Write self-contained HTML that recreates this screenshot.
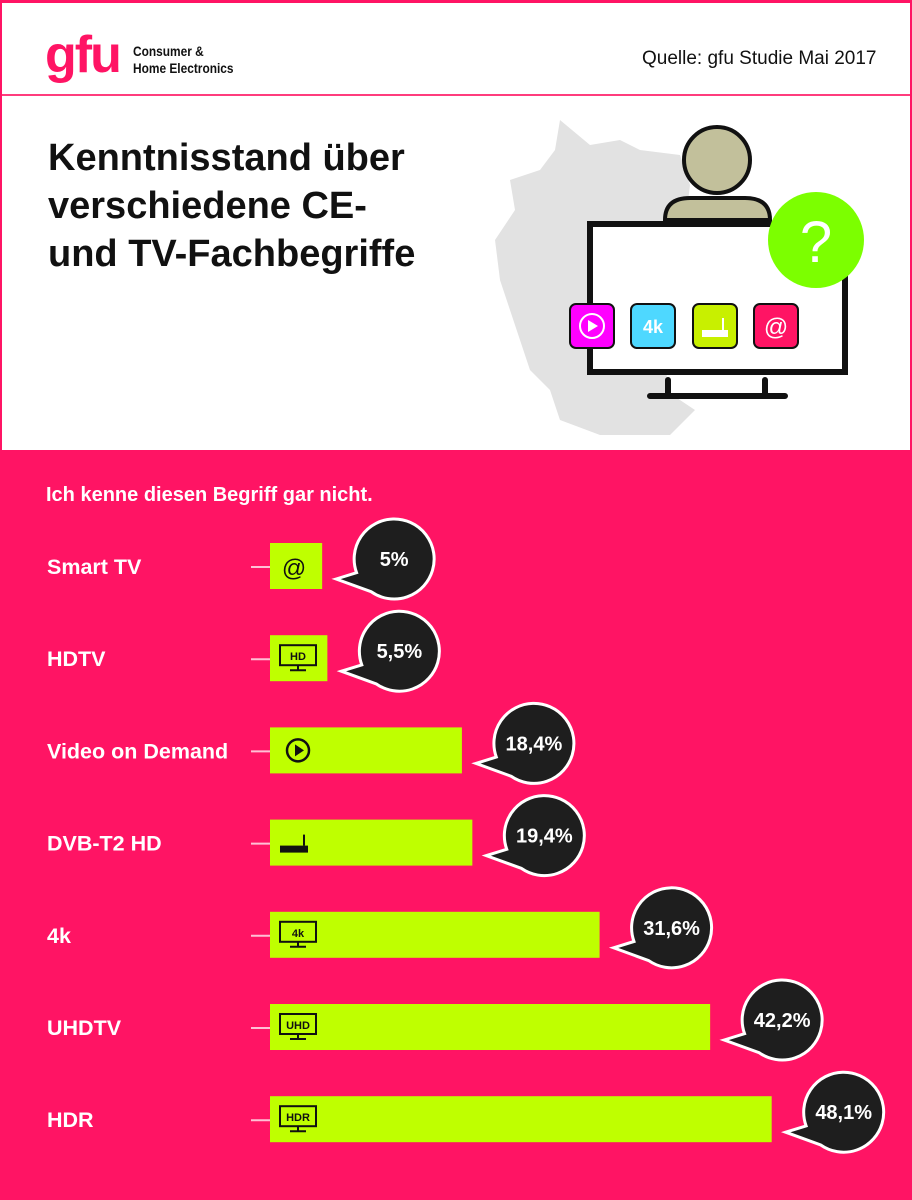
<!DOCTYPE html>
<html><head><meta charset="utf-8"><style>
body{margin:0;width:912px;height:1200px;overflow:hidden;font-family:"Liberation Sans",sans-serif;}
#wrap{position:relative;width:912px;height:1200px;background:#ff1464;}
#top{position:absolute;left:2px;top:3px;width:908px;height:447px;background:#fff;}
#hline{position:absolute;left:0;top:91px;width:908px;height:2px;background:#ff3c7d;}
.t{position:absolute;white-space:nowrap;}
</style></head><body>
<div id="wrap">
<div id="top">
 <div class="t" style="left:43px;top:26px;font-size:52px;font-weight:bold;color:#ff1464;letter-spacing:-2px;line-height:52px;">gfu</div>
 <div class="t" style="left:131px;top:40px;font-size:14px;font-weight:bold;line-height:17px;color:#111;transform:scaleX(0.85);transform-origin:left;">Consumer &amp;<br>Home Electronics</div>
 <div class="t" style="left:640px;top:45px;font-size:19px;color:#111;">Quelle: gfu Studie Mai 2017</div>
 <div id="hline"></div>
 <div class="t" style="left:46px;top:131px;font-size:38px;font-weight:bold;line-height:48px;color:#111;">Kenntnisstand über<br>verschiedene CE-<br>und TV-Fachbegriffe</div>
 <svg style="position:absolute;left:478px;top:87px" width="420" height="360">
  <path d="M80 30 L110 55 L140 50 L160 60 L200 65 L210 95 L185 300 L215 320 L190 345 L120 345 L80 330 L70 300 L50 280 L40 250 L20 190 L15 150 L35 120 L30 90 L60 80 L75 60 Z" fill="#e2e2e2"/>
  <circle cx="237" cy="70" r="33" fill="#c2c09b" stroke="#111" stroke-width="4"/>
  <path d="M185 130 Q185 108 210 108 L265 108 Q290 108 290 130 Z" fill="#c2c09b" stroke="#111" stroke-width="4"/>
  <rect x="110" y="134" width="255" height="148" fill="#fff" stroke="#111" stroke-width="6"/>
  <path d="M170 306 H305 M188 306 V290 M285 306 V290" stroke="#111" stroke-width="6" stroke-linecap="round"/>
  <circle cx="336" cy="150" r="48" fill="#7cff00"/>
  <text x="336" y="172" font-size="58" fill="#fff" text-anchor="middle" font-family="Liberation Sans">?</text>
  <rect x="90" y="214" width="44" height="44" rx="6" fill="#ff00ff" stroke="#111" stroke-width="2"/>
  <circle cx="112" cy="236" r="12" fill="none" stroke="#fff" stroke-width="2"/><path d="M108 230 L118 236 L108 242Z" fill="#fff"/>
  <rect x="151" y="214" width="44" height="44" rx="6" fill="#4ed8ff" stroke="#111" stroke-width="2"/>
  <text x="173" y="243" font-size="18" font-weight="bold" fill="#fff" text-anchor="middle">4k</text>
  <rect x="213" y="214" width="44" height="44" rx="6" fill="#c8f000" stroke="#111" stroke-width="2"/>
  <rect x="222" y="240" width="26" height="7" fill="#fff"/><path d="M243 240 V228" stroke="#fff" stroke-width="2"/>
  <rect x="274" y="214" width="44" height="44" rx="6" fill="#ff1464" stroke="#111" stroke-width="2"/>
  <text x="296" y="245" font-size="24" fill="#fff" text-anchor="middle">@</text>
 </svg>
</div>
<div class="t" style="left:46px;top:484px;font-size:20px;font-weight:bold;color:#fff;">Ich kenne diesen Begriff gar nicht.</div>
<svg id="chart" style="position:absolute;left:0;top:0" width="912" height="1200"></svg>
</div>
<script>
const categories=["Smart TV","HDTV","Video on Demand","DVB-T2 HD","4k","UHDTV","HDR"];
const values=[5,5.5,18.4,19.4,31.6,42.2,48.1];
const valueLabels=["5%","5,5%","18,4%","19,4%","31,6%","42,2%","48,1%"];
const iconTexts=["@","HD","▶","dvb","4k","UHD","HDR"];
const NS="http://www.w3.org/2000/svg";
const svg=document.getElementById('chart');
const x0=270,scale=10.43,y0=543,step=92.2,bh=46;
function xs(v){return x0+v*scale;}
function ys(i){return y0+i*step;}
function mk(t,a){const e=document.createElementNS(NS,t);for(const k in a)e.setAttribute(k,a[k]);svg.appendChild(e);return e;}
categories.forEach((c,i)=>{
 const y=ys(i),xe=xs(values[i]);
 const lab=mk('text',{x:47,y:y+31,'font-size':21.5,'font-weight':'bold',fill:'#fff','font-family':'Liberation Sans'});
 lab.textContent=c;
 
 
 const ln=mk('line',{x1:251,x2:270,y1:y+24,y2:y+24,stroke:'#ffc0d5','stroke-width':2});
 
 
 const bar=mk('rect',{x:x0,y:y,width:xe-x0,height:bh,fill:'#bfff00'});
 
 
 const ix=x0+10,iy=y+9;
 if(iconTexts[i]==="@"){const t=mk('text',{x:ix+14,y:iy+24,'font-size':24,fill:'#111','text-anchor':'middle'});t.textContent="@";}
 else if(iconTexts[i]==="▶"){mk('circle',{cx:ix+18,cy:iy+14,r:11,fill:'none',stroke:'#111','stroke-width':2.5});mk('path',{d:`M${ix+15} ${iy+8} L${ix+24} ${iy+14} L${ix+15} ${iy+20}Z`,fill:'#111'});}
 else if(iconTexts[i]==="dvb"){mk('rect',{x:ix,y:iy+17,width:28,height:7,fill:'#111'});mk('path',{d:`M${ix+24} ${iy+17} V${iy+6}`,stroke:'#111','stroke-width':2});}
 else{mk('rect',{x:ix,y:iy+1,width:36,height:20,fill:'none',stroke:'#111','stroke-width':2});mk('path',{d:`M${ix+18} ${iy+21} V${iy+26} M${ix+10} ${iy+26} H${ix+26}`,stroke:'#111','stroke-width':2});const t=mk('text',{x:ix+18,y:iy+16,'font-size':11,'font-weight':'bold',fill:'#111','text-anchor':'middle'});t.textContent=iconTexts[i];}
 const cx=xe+72,cy=y+16,r=40;
 const a1=160*Math.PI/180,a2=125*Math.PI/180;
 const p1=[cx+r*Math.cos(a1),cy+r*Math.sin(a1)],p2=[cx+r*Math.cos(a2),cy+r*Math.sin(a2)];
 const g=mk('path',{d:`M${xe+14} ${y+36} L${p1[0]} ${p1[1]} A${r} ${r} 0 1 1 ${p2[0]} ${p2[1]} Z`,fill:'#1e1e1e',stroke:'#fff','stroke-width':3,'stroke-linejoin':'miter'});
 
 
 const vt=mk('text',{x:cx,y:cy+7,'font-size':20,'font-weight':'bold',fill:'#fff','text-anchor':'middle','font-family':'Liberation Sans'});
 vt.textContent=valueLabels[i];
 
 
});
</script>
</body></html>
